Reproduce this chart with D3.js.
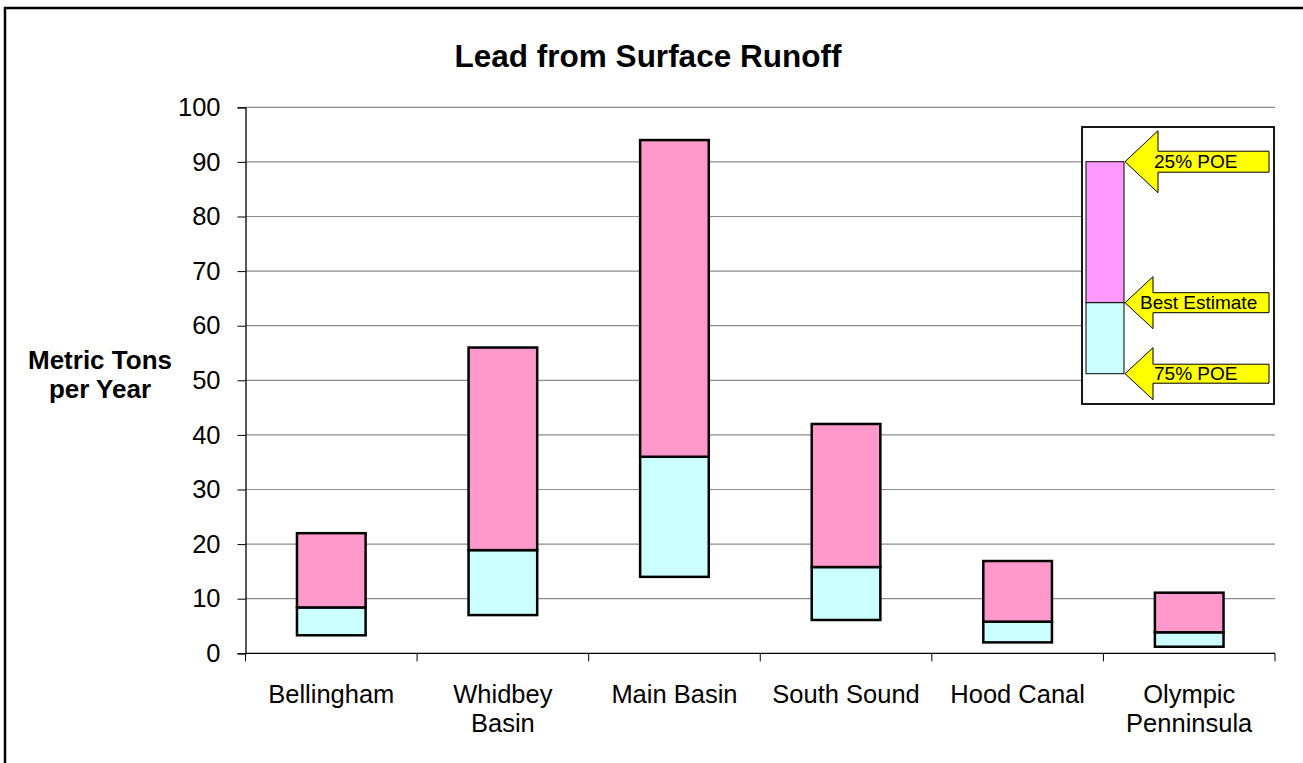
<!DOCTYPE html>
<html>
<head>
<meta charset="utf-8">
<script src="https://cdn.jsdelivr.net/npm/d3@7"></script>
<style>
  html, body { margin: 0; padding: 0; background: #fff; }
  svg { display: block; font-family: "Liberation Sans", Arial, sans-serif; }
</style>
</head>
<body>
<svg id="chart" width="1303" height="763"></svg>
<script>
// ---- data ----
const categories = [["Bellingham"], ["Whidbey", "Basin"], ["Main Basin"], ["South Sound"], ["Hood Canal"], ["Olympic", "Penninsula"]];
const poe75 = [3.3, 7.0, 14.0, 6.1, 2.0, 1.2];      // 75% POE (bottom)
const bestEstimate = [8.4, 18.9, 36.0, 15.8, 5.8, 3.85];
const poe25 = [22.0, 56.0, 94.0, 42.0, 16.9, 11.1]; // 25% POE (top)
const yTicks = [0, 10, 20, 30, 40, 50, 60, 70, 80, 90, 100];
const legendLabels = ["25% POE", "Best Estimate", "75% POE"];

const svg = d3.select("#chart");
const W = 1303, H = 763;

// outer border
svg.append("rect").attr("x", 5).attr("y", 8).attr("width", 1320).attr("height", 780)
  .attr("fill", "none").attr("stroke", "#000").attr("stroke-width", 2.5);

const plot = { left: 245.5, right: 1275, top: 107.3, bottom: 653.3 };

const x = d3.scaleBand().domain(d3.range(categories.length))
  .range([plot.left, plot.right]).paddingInner(0.6).paddingOuter(0.3);
const xOuter = d3.scaleBand().domain(d3.range(categories.length)).range([plot.left, plot.right]);
const y = d3.scaleLinear().domain([0, 100]).range([plot.bottom, plot.top]);

// gridlines
svg.append("g").selectAll("line").data(yTicks.filter(d => d > 0)).join("line")
  .attr("x1", plot.left).attr("x2", plot.right)
  .attr("y1", d => y(d)).attr("y2", d => y(d))
  .attr("stroke", "#8c8c8c").attr("stroke-width", 1.2);

// y axis
const yAxis = d3.axisLeft(y).tickValues(yTicks).tickSize(8).tickPadding(17).tickFormat(d3.format("d"));
const gy = svg.append("g").attr("transform", `translate(${plot.left},0)`).call(yAxis);
gy.select(".domain").attr("stroke", "#000").attr("stroke-width", 1.3);
gy.selectAll(".tick line").attr("stroke", "#000").attr("stroke-width", 1);
gy.selectAll(".tick text").attr("font-size", 25.5).attr("fill", "#000")
  .attr("font-family", "'Liberation Sans', Arial, sans-serif");

// x axis line and ticks at band boundaries
svg.append("line").attr("x1", plot.left).attr("x2", plot.right)
  .attr("y1", plot.bottom).attr("y2", plot.bottom).attr("stroke", "#000").attr("stroke-width", 1.3);
const bounds = d3.range(categories.length + 1).map(i => i < categories.length ? xOuter(i) : plot.right);
svg.append("g").selectAll("line").data(bounds).join("line")
  .attr("x1", d => d).attr("x2", d => d)
  .attr("y1", plot.bottom).attr("y2", plot.bottom + 8)
  .attr("stroke", "#000").attr("stroke-width", 1);

// category labels
const cl = svg.append("g").selectAll("text").data(categories).join("text")
  .attr("x", (d, i) => xOuter(i) + xOuter.bandwidth() / 2)
  .attr("y", 703)
  .attr("text-anchor", "middle").attr("font-size", 25.5).attr("fill", "#000");
cl.each(function(d) {
  const t = d3.select(this);
  d.forEach((line, k) => {
    t.append("tspan").attr("x", t.attr("x")).attr("dy", k === 0 ? 0 : 28.5).text(line);
  });
});

// bars
const barG = svg.append("g");
barG.selectAll("rect.low").data(poe75).join("rect").attr("class", "low")
  .attr("x", (d, i) => x(i)).attr("width", x.bandwidth())
  .attr("y", (d, i) => y(bestEstimate[i])).attr("height", (d, i) => y(d) - y(bestEstimate[i]))
  .attr("fill", "#CCFFFF").attr("stroke", "#000").attr("stroke-width", 2.5);
barG.selectAll("rect.high").data(poe25).join("rect").attr("class", "high")
  .attr("x", (d, i) => x(i)).attr("width", x.bandwidth())
  .attr("y", d => y(d)).attr("height", (d, i) => y(bestEstimate[i]) - y(d))
  .attr("fill", "#FF99CC").attr("stroke", "#000").attr("stroke-width", 2.5);

// title
svg.append("text").attr("x", 648).attr("y", 67).attr("text-anchor", "middle")
  .attr("font-size", 31.5).attr("font-weight", "bold").attr("fill", "#000")
  .text("Lead from Surface Runoff");

// y axis title
const yt = svg.append("text").attr("x", 100).attr("y", 369).attr("text-anchor", "middle")
  .attr("font-size", 26).attr("font-weight", "bold").attr("fill", "#000");
yt.append("tspan").attr("x", 100).attr("dy", 0).text("Metric Tons");
yt.append("tspan").attr("x", 100).attr("dy", 29).text("per Year");

// legend
const lg = svg.append("g");
lg.append("rect").attr("x", 1082).attr("y", 127).attr("width", 192).attr("height", 277)
  .attr("fill", "#fff").attr("stroke", "#000").attr("stroke-width", 1.8);
const lb = { x: 1086, w: 38, top: 161.7, mid: 302.7, bot: 373.7 };
lg.append("rect").attr("x", lb.x).attr("y", lb.top).attr("width", lb.w).attr("height", lb.mid - lb.top)
  .attr("fill", "#FF99FF").attr("stroke", "#000").attr("stroke-width", 1);
lg.append("rect").attr("x", lb.x).attr("y", lb.mid).attr("width", lb.w).attr("height", lb.bot - lb.mid)
  .attr("fill", "#CCFFFF").attr("stroke", "#000").attr("stroke-width", 1);

const arrows = [
  { y: lb.top, back: 1158, hh: 31, sh: 10.5, tx: 1154 },
  { y: lb.mid, back: 1153, hh: 26, sh: 10, tx: 1140 },
  { y: lb.bot, back: 1153, hh: 26, sh: 9.5, tx: 1154 }
];
arrows.forEach((a, i) => {
  const tip = 1125, end = 1269;
  const pts = [[tip, a.y], [a.back, a.y - a.hh], [a.back, a.y - a.sh], [end, a.y - a.sh],
               [end, a.y + a.sh], [a.back, a.y + a.sh], [a.back, a.y + a.hh]];
  lg.append("path").attr("d", d3.line()(pts) + "Z")
    .attr("fill", "#FFFF00").attr("stroke", "#000").attr("stroke-width", 1);
  lg.append("text").attr("x", a.tx).attr("y", a.y + 6.5)
    .attr("font-size", 19).attr("fill", "#000").text(legendLabels[i]);
});
</script>
</body>
</html>
